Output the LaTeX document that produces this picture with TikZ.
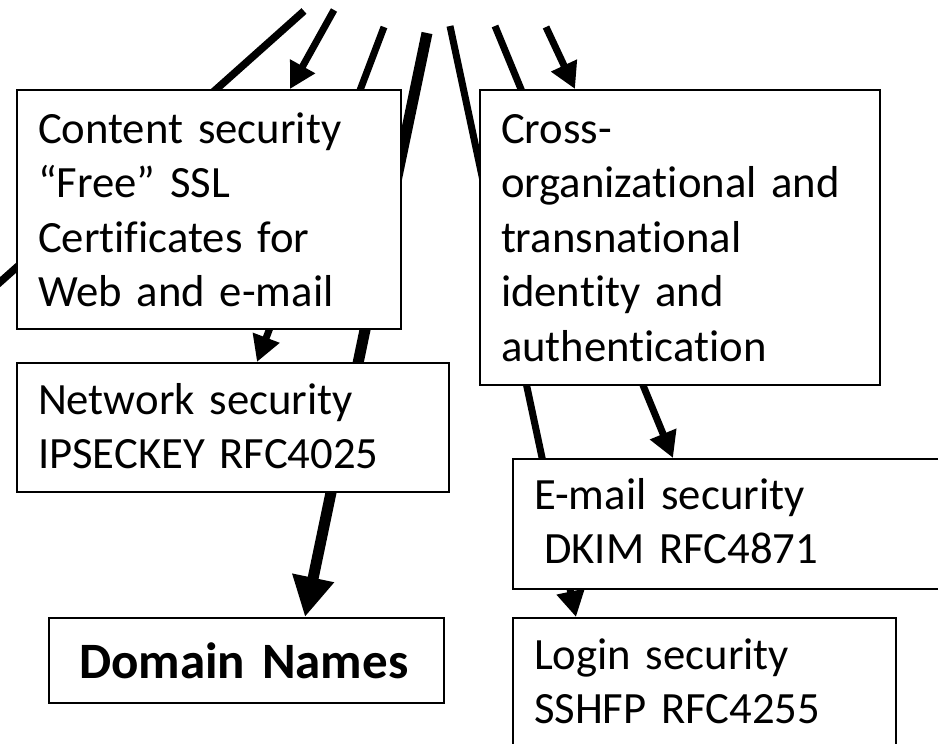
\documentclass[tikz,border=0pt]{standalone}
\usepackage{fontspec}
\setmainfont{Carlito}[Ligatures=NoCommon]
\usetikzlibrary{arrows.meta,calc,backgrounds}
\newcommand\myboxfont{\fontsize{44.7}{54.5}\selectfont\setlength{\spaceskip}{7.2pt}}
\newcommand\mybigfont{\fontsize{51}{60}\selectfont\bfseries\setlength{\spaceskip}{9pt}}
\begin{document}
\begin{tikzpicture}[x=1pt,y=-1pt,
  box/.style={draw, line width=2pt, fill=white, anchor=north west,
    inner xsep=21pt, inner ysep=0pt, align=left, font=\myboxfont},
  bigbox/.style={box, inner xsep=30pt, font=\mybigfont},
  plainline/.style={line width=7.5pt},
  arr/.style={line width=7pt, -{Triangle[length=26pt,width=27pt]}},
  thickarr/.style={line width=11pt, -{Triangle[length=40pt,width=40pt]}}]
\useasboundingbox (0,0) rectangle (938,744);
\clip (0,0) rectangle (938,744);

\node[box, text width=342pt, text height=53pt, text depth=186pt] (content) at (16,89)
  {Content security\\“Free” SSL\\Certificates for\\Web and e-mail};
\node[box, text width=358pt, text height=53pt, text depth=242pt] (cross) at (479,89)
  {Cross-\\organizational and\\transnational\\identity and\\authentication};
\node[box, text width=390pt, text height=51pt, text depth=78pt] (network) at (16,362)
  {Network security\\IPSECKEY RFC4025};
\node[box, text width=398pt, text height=50pt, text depth=80pt] (email) at (512,458)
  {E-mail security\\\hspace*{10pt}DKIM RFC4871};
\node[bigbox, text width=335pt, text height=60pt, text depth=25pt] (domain) at (48,617)
  {Domain Names};
\node[box, text width=341pt, text height=51pt, text depth=100pt] (login) at (512,617)
  {Login security\\SSHFP RFC4255};

\coordinate (s1) at (304,11);
\coordinate (e1) at (-20,300);
\coordinate (s2) at (334,10);
\coordinate (s3) at (384,27);
\coordinate (s4) at (427,33);
\coordinate (s5) at (450,26);
\coordinate (s6) at (495,26);
\coordinate (s7) at (546,27);

\begin{scope}[on background layer]
  \clip (0,0) rectangle (938,744);
  \draw[plainline] (s1) -- (e1);
  \draw[arr] (s2) -- ($(content.north west)+(274,0)$);
  \draw[arr] (s3) -- ($(network.north west)+(241,0)$);
  \draw[thickarr] (s4) -- ($(domain.north west)+(257,0)$);
  \draw[arr] (s5) -- ($(login.north west)+(64,0)$);
  \draw[arr] (s6) -- ($(email.north west)+(161,0)$);
  \draw[arr] (s7) -- ($(cross.north west)+(96,0)$);
\end{scope}
\end{tikzpicture}
\end{document}
